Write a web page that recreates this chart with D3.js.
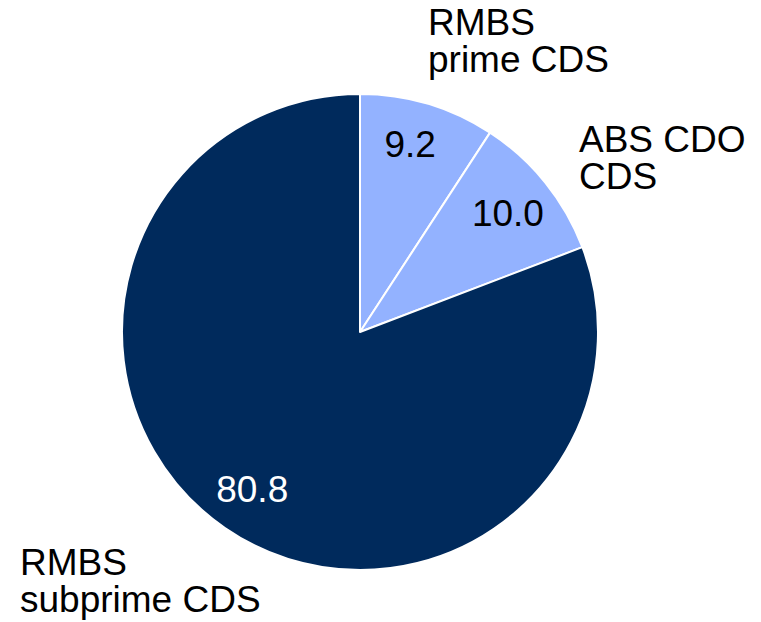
<!DOCTYPE html>
<html>
<head>
<meta charset="utf-8">
<script src="https://cdn.jsdelivr.net/npm/d3@7"></script>
<style>
  html, body { margin: 0; padding: 0; background: #fff; }
  svg { display: block; font-family: "Liberation Sans", Arial, sans-serif; }
</style>
</head>
<body>
<svg id="chart" width="761" height="622"></svg>
<script>
// CDS exposure shares (per cent)
const categories = ["RMBS prime CDS", "ABS CDO CDS", "RMBS subprime CDS"];
const values = [9.2, 10.0, 80.8];
const valueLabels = ["9.2", "10.0", "80.8"];
const categoryLines = [["RMBS", "prime CDS"], ["ABS CDO", "CDS"], ["RMBS", "subprime CDS"]];
const sliceColors = ["#93b2ff", "#93b2ff", "#002a5c"];
const valueTextColors = ["#000", "#000", "#fff"];

const svg = d3.select("#chart");
const cx = 360, cy = 332, radius = 238;
const fontSize = 37;

const pie = d3.pie().sort(null).value(d => d)(values);
const arc = d3.arc().innerRadius(0).outerRadius(radius);
const labelArc = d3.arc().innerRadius(190).outerRadius(190);

const g = svg.append("g").attr("transform", `translate(${cx},${cy})`);

g.selectAll("path.slice")
  .data(pie)
  .join("path")
  .attr("class", "slice")
  .attr("d", arc)
  .attr("fill", (d, i) => sliceColors[i])
  .attr("stroke", "#fff")
  .attr("stroke-width", 2)
  .attr("stroke-linejoin", "round");

g.selectAll("text.value")
  .data(pie)
  .join("text")
  .attr("class", "value")
  .attr("transform", (d, i) => {
    const [x, y] = labelArc.centroid(d);
    return `translate(${x - (i === 0 ? 4 : 0)},${y - (i === 0 ? 6 : 0)})`;
  })
  .attr("text-anchor", "middle")
  .attr("dy", "0.36em")
  .attr("font-size", fontSize)
  .attr("fill", (d, i) => valueTextColors[i])
  .text((d, i) => valueLabels[i]);

// Category names placed outside the pie
const namePos = [
  { x: 428, y: 35 },
  { x: 579, y: 152 },
  { x: 20, y: 575 }
];
const lineGap = 37;

svg.selectAll("text.name")
  .data(categories)
  .join("text")
  .attr("class", "name")
  .attr("x", (d, i) => namePos[i].x)
  .attr("y", (d, i) => namePos[i].y)
  .attr("font-size", fontSize)
  .attr("fill", "#000")
  .each(function (d, i) {
    d3.select(this).selectAll("tspan")
      .data(categoryLines[i])
      .join("tspan")
      .attr("x", namePos[i].x)
      .attr("dy", (t, j) => j === 0 ? 0 : lineGap)
      .text(t => t);
  });
</script>
</body>
</html>
